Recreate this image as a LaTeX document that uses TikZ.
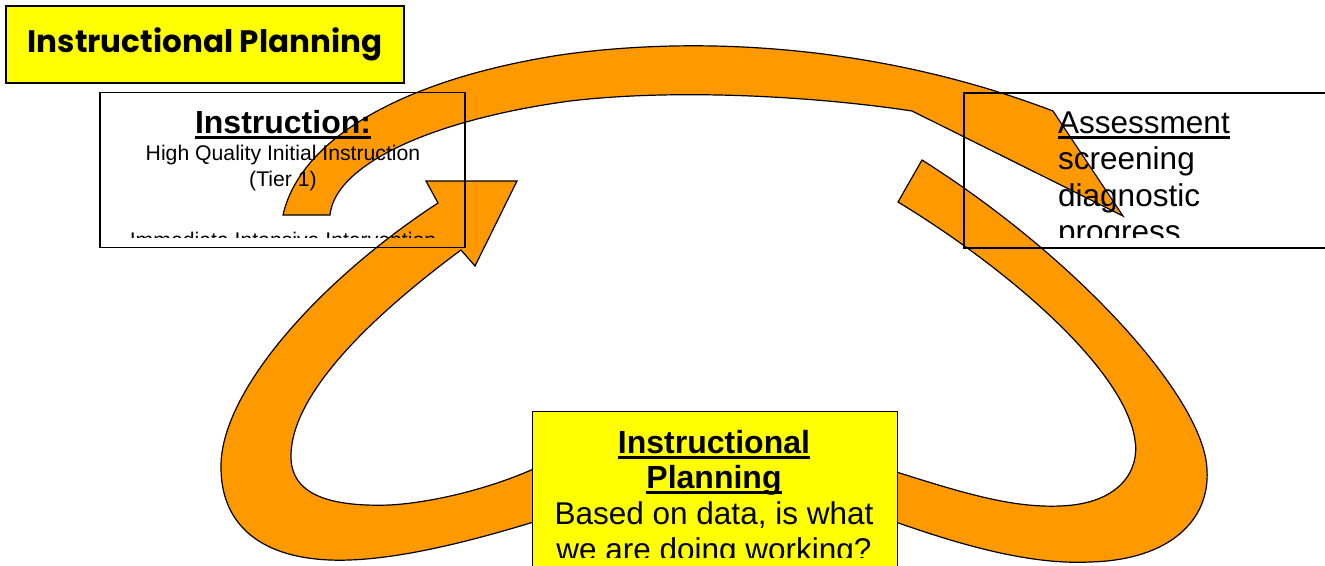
\documentclass[tikz,border=0pt]{standalone}
\usepackage{fontspec}
\setmainfont{Liberation Sans}
\newfontfamily\gothic{Poppins}
\definecolor{arroworange}{HTML}{FF9900}
\definecolor{planyellow}{HTML}{FFFF00}
\newcommand{\ultext}[1]{\setbox0\hbox{#1}\rlap{\rule[-0.19em]{\wd0}{0.095em}}\box0}
\begin{document}
\begin{tikzpicture}[x=1pt,y=-1pt,
		block/.style={fill=arroworange,draw=black,line width=1.2pt},
		planbox/.style={draw=black,line width=1.6pt,fill=planyellow,inner sep=0},
		infobox/.style={draw=black,line width=1.6pt,inner sep=0},
		headtext/.style={inner sep=0,font=\bfseries\fontsize{32}{36}\selectfont},
		bigtext/.style={inner sep=0,font=\fontsize{31.5}{36}\selectfont},
		smalltext/.style={inner sep=0,font=\fontsize{21.2}{25}\selectfont}
	]
	\useasboundingbox (0,0) rectangle (1325,565);

	% arc from instruction to assessment
	\path[block] (283,215) .. controls (300,140) and (400,80) .. (560,55)
		.. controls (700,35) and (880,45) .. (1053,111)
		-- (1123,216) -- (912,111)
		.. controls (820,97) and (680,88) .. (570,101)
		.. controls (430,120) and (335,165) .. (330,215) -- cycle;
	% from planning back to instruction
	\path[block] (540,520) .. controls (450,548) and (380,562) .. (330,560)
		.. controls (255,557) and (220,520) .. (221,465)
		.. controls (222,390) and (320,280) .. (438,203)
		-- (426,181) -- (517,181) -- (475,266) -- (461,250)
		.. controls (380,310) and (292,390) .. (291,455)
		.. controls (290,495) and (330,507) .. (390,505)
		.. controls (440,502) and (500,485) .. (540,466) -- cycle;
	% from assessment down to planning
	\path[block] (890,520) .. controls (960,545) and (1030,565) .. (1090,562)
		.. controls (1170,560) and (1210,520) .. (1207,470)
		.. controls (1205,400) and (1080,260) .. (922,160)
		-- (898,202)
		.. controls (1010,270) and (1125,370) .. (1135,440)
		.. controls (1140,470) and (1120,504) .. (1060,506)
		.. controls (1010,508) and (960,492) .. (890,470) -- cycle;

	% title
	\node[planbox,minimum width=398,minimum height=77,font=\gothic\bfseries\fontsize{31}{36}\selectfont] (title) at (205,44.5) {Instructional Planning};

	% instruction
	\node[infobox,minimum width=365,minimum height=155] (instr) at (282.5,170) {};
	\begin{scope}
		\clip (100,92) rectangle (465,237);
		\node[headtext,anchor=base] (instrhead) at (283,133) {\ultext{Instruction:}};
		\node[smalltext,anchor=base] (tierone) at (283,160) {High Quality Initial Instruction};
		\node[smalltext,anchor=base] (tieronenote) at (283,186) {(Tier 1)};
		\node[smalltext,anchor=base] (tiertwo) at (283,247) {Immediate Intensive Intervention};
	\end{scope}

	% assessment
	\node[infobox,anchor=north west,minimum width=380,minimum height=155] (assess) at (963,92) {};
	\begin{scope}
		\clip (963,92) rectangle (1325,237);
		\node[bigtext,anchor=base west] (assesshead) at (1058,133) {\ultext{Assessment}};
		\foreach \kind [count=\i] in {screening,diagnostic,progress}
			\node[bigtext,anchor=base west] (kind\i) at (1058,{133+36.5*\i}) {\kind};
	\end{scope}

	% planning
	\node[planbox,anchor=north west,minimum width=365,minimum height=170] (plan) at (531.5,410.5) {};
	\begin{scope}
		\clip (532,411) rectangle (896,557);
		\node[headtext,anchor=base] (planhead) at (714,453) {\ultext{Instructional}};
		\node[headtext,anchor=base] (planheadb) at (714,488) {\ultext{Planning}};
		\node[bigtext,anchor=base] (question) at (714,524) {Based on data, is what};
		\node[bigtext,anchor=base] (questionb) at (714,560) {we are doing working?};
	\end{scope}
\end{tikzpicture}
\end{document}
